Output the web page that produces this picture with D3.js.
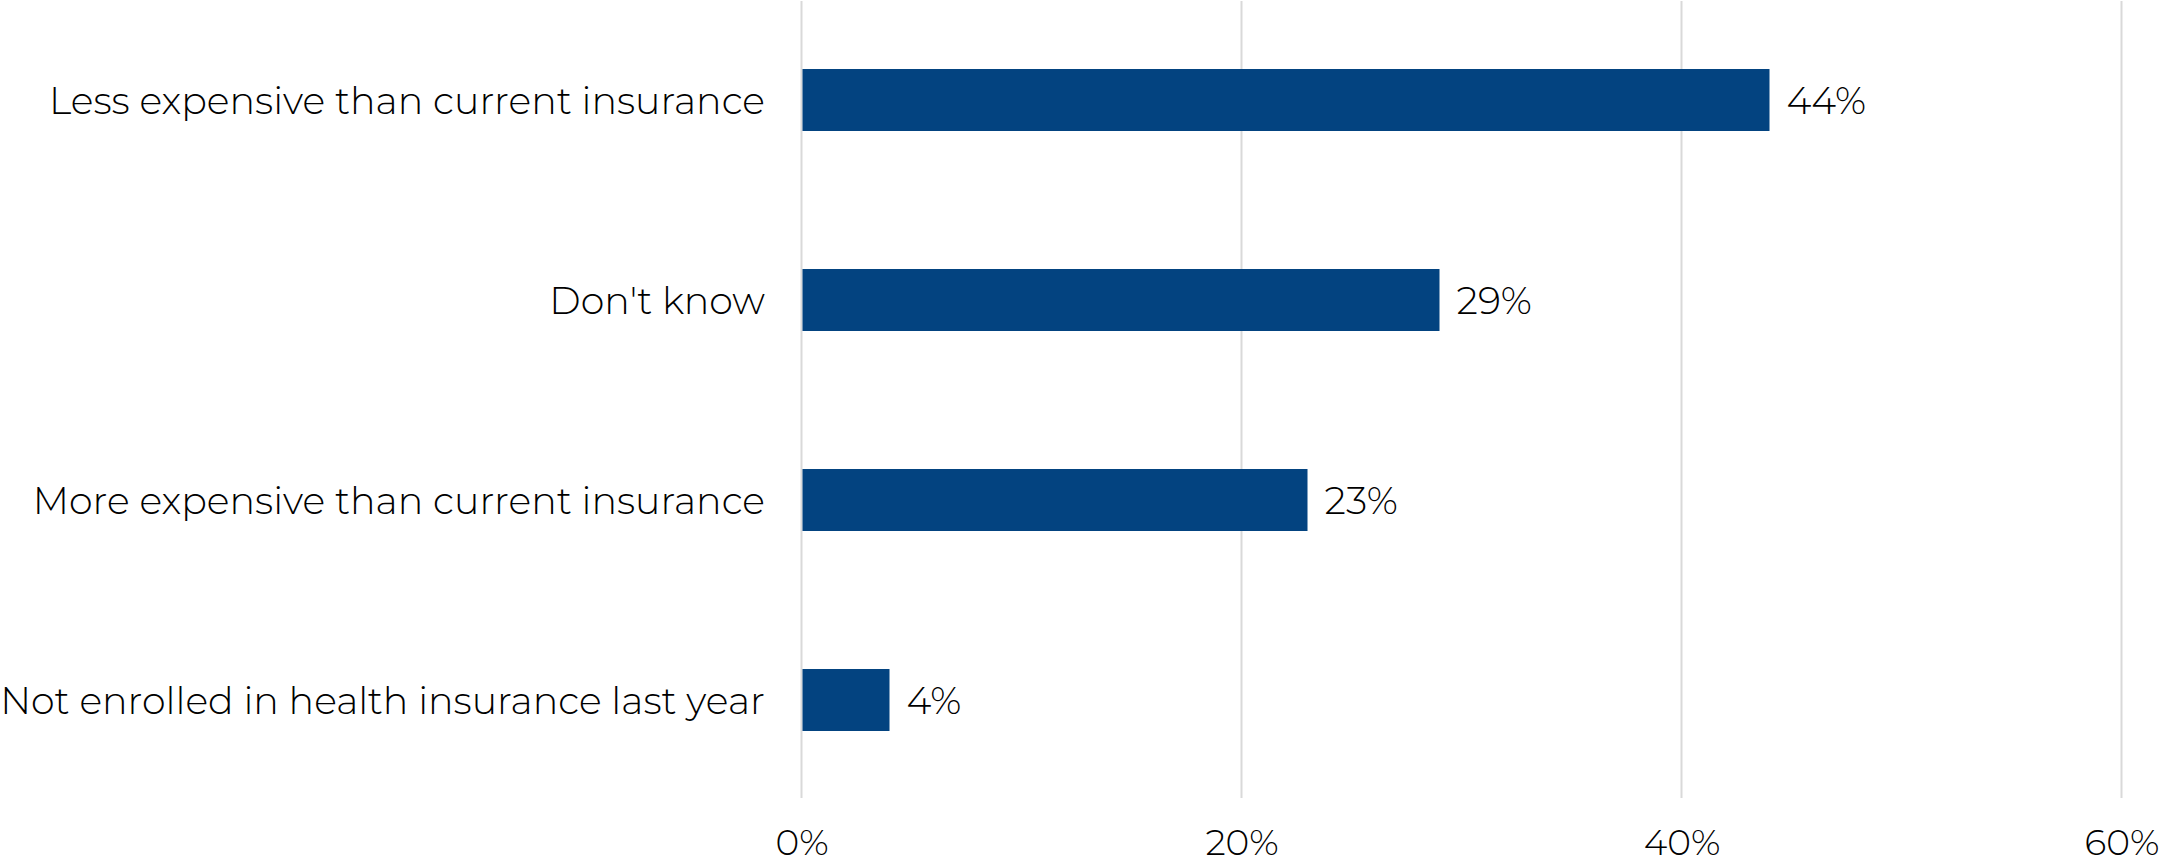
<!DOCTYPE html>
<html>
<head>
<meta charset="utf-8">
<script src="https://cdn.jsdelivr.net/npm/d3@7"></script>
<style>
  html, body { margin: 0; padding: 0; background: #ffffff; }
  svg { display: block; }
  text { font-family: "Montserrat", "Lato", "Open Sans", sans-serif; fill: #000; }
</style>
</head>
<body>
<svg id="chart" width="2163" height="863"></svg>
<script>
// ---- data ----
const categories = [
  "Less expensive than current insurance",
  "Don't know",
  "More expensive than current insurance",
  "Not enrolled in health insurance last year"
];
const values = [44, 29, 23, 4];
const tickValues = [0, 20, 40, 60];
const tickLabels = ["0%", "20%", "40%", "60%"];

// ---- layout ----
const plot = { left: 801.5, right: 2121.5, top: 0, bottom: 800 };
const barColor = "#034380";
const gridColor = "#d9d9d9";

const svg = d3.select("#chart");

const x = d3.scaleLinear().domain([0, 60]).range([plot.left, plot.right]);
const y = d3.scaleBand().domain(categories).range([plot.top, plot.bottom])
  .paddingInner(0.69).paddingOuter(0.345);

// gridlines
svg.append("g").selectAll("line").data(tickValues).join("line")
  .attr("x1", d => x(d)).attr("x2", d => x(d))
  .attr("y1", 1).attr("y2", 798)
  .attr("stroke", gridColor).attr("stroke-width", 2);

// bars
const data = categories.map((c, i) => ({ c, v: values[i] }));
svg.append("g").selectAll("rect").data(data).join("rect")
  .attr("x", x(0) + 1)
  .attr("y", d => y(d.c))
  .attr("width", d => x(d.v) - x(0) - 1)
  .attr("height", y.bandwidth())
  .attr("fill", barColor);

// value labels
svg.append("g").selectAll("text").data(data).join("text")
  .attr("x", d => x(d.v) + 17)
  .attr("y", d => y(d.c) + y.bandwidth() / 2)
  .attr("dy", "0.36em")
  .attr("font-size", 38)
  .attr("font-weight", 300)
  .text(d => d.v + "%");

// x axis tick labels
const xAxis = d3.axisBottom(x).tickValues(tickValues)
  .tickFormat((d, i) => tickLabels[i]).tickSize(0).tickPadding(0);
const gx = svg.append("g").attr("transform", "translate(0,829)").call(xAxis);
gx.select(".domain").remove();
gx.selectAll("text")
  .attr("dy", "0.71em")
  .attr("font-size", 36)
  .attr("font-weight", 300)
  .style("font-family", '"Montserrat", "Lato", "Open Sans", sans-serif')
  .attr("fill", "#000");

// category labels (condensed)
const labelRight = 765;
const gy = svg.append("g");
const labels = gy.selectAll("text").data(categories).join("text")
  .attr("text-anchor", "end")
  .attr("font-size", 38)
  .attr("font-weight", 300)
  .attr("y", d => y(d) + y.bandwidth() / 2)
  .attr("dy", "0.36em")
  .text(d => d);
// fit horizontally so the longest label spans the same width as the original
let maxW = 0;
labels.each(function() { maxW = Math.max(maxW, this.getComputedTextLength()); });
const targetW = 765;
const sx = targetW / maxW;
labels.attr("transform", `translate(${labelRight},0) scale(${sx},1)`).attr("x", 0);
</script>
</body>
</html>
